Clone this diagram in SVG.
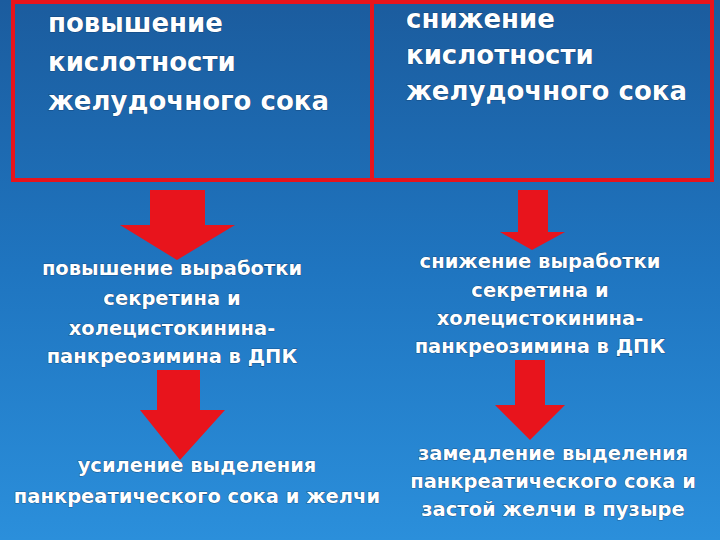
<svg xmlns="http://www.w3.org/2000/svg" width="720" height="540" viewBox="0 0 720 540">
<defs>
<linearGradient id="bg" x1="0" y1="0" x2="0" y2="1">
<stop offset="0" stop-color="#1b5c9e"/>
<stop offset="0.5" stop-color="#1f75c0"/>
<stop offset="1" stop-color="#2b8fdb"/>
</linearGradient>
<style>
.t{font-family:"DejaVu Sans",Verdana,sans-serif;font-weight:bold;fill:#fff;stroke:#0a2a50;stroke-width:0.6;paint-order:stroke}
.big{font-size:26px}
.mid{font-size:19.5px;text-anchor:middle}
.box{fill:none;stroke:#e8141c;stroke-width:4}
.arr{fill:#e8141c}
</style>
</defs>
<rect width="720" height="540" fill="url(#bg)"/>
<g id="box-left"><rect class="box" x="13" y="2" width="359" height="178"/>
<text class="t big" x="48" y="32">повышение</text><text class="t big" x="48" y="71">кислотности</text><text class="t big" x="48" y="110">желудочного сока</text></g>
<g id="box-right"><rect class="box" x="372" y="2" width="340" height="178"/>
<text class="t big" x="406" y="28">снижение</text><text class="t big" x="406" y="64">кислотности</text><text class="t big" x="406" y="100">желудочного сока</text></g>
<g id="connectors">
<polygon class="arr" points="150,190 205,190 205,225 235,225 177,260 120,225 150,225"/>
<polygon class="arr" points="518,190 548,190 548,232 565,232 532,250 500,232 518,232"/>
<polygon class="arr" points="157,370 200,370 200,410 225,410 180,460 140,410 157,410"/>
<polygon class="arr" points="515,360 545,360 545,405 565,405 530,440 495,405 515,405"/>
</g>
<g id="mid-left"><text class="t mid" x="172" y="275">повышение выработки</text><text class="t mid" x="172" y="305">секретина и</text><text class="t mid" x="172" y="335">холецистокинина-</text><text class="t mid" x="172" y="363">панкреозимина в ДПК</text></g>
<g id="mid-right"><text class="t mid" x="540" y="268">снижение выработки</text><text class="t mid" x="540" y="297">секретина и</text><text class="t mid" x="540" y="325">холецистокинина-</text><text class="t mid" x="540" y="353">панкреозимина в ДПК</text></g>
<g id="bot-left"><text class="t mid" x="197" y="472">усиление выделения</text><text class="t mid" x="197" y="503">панкреатического сока и желчи</text></g>
<g id="bot-right"><text class="t mid" x="553" y="460">замедление выделения</text><text class="t mid" x="553" y="488">панкреатического сока и</text><text class="t mid" x="553" y="516">застой желчи в пузыре</text></g>
</svg>
